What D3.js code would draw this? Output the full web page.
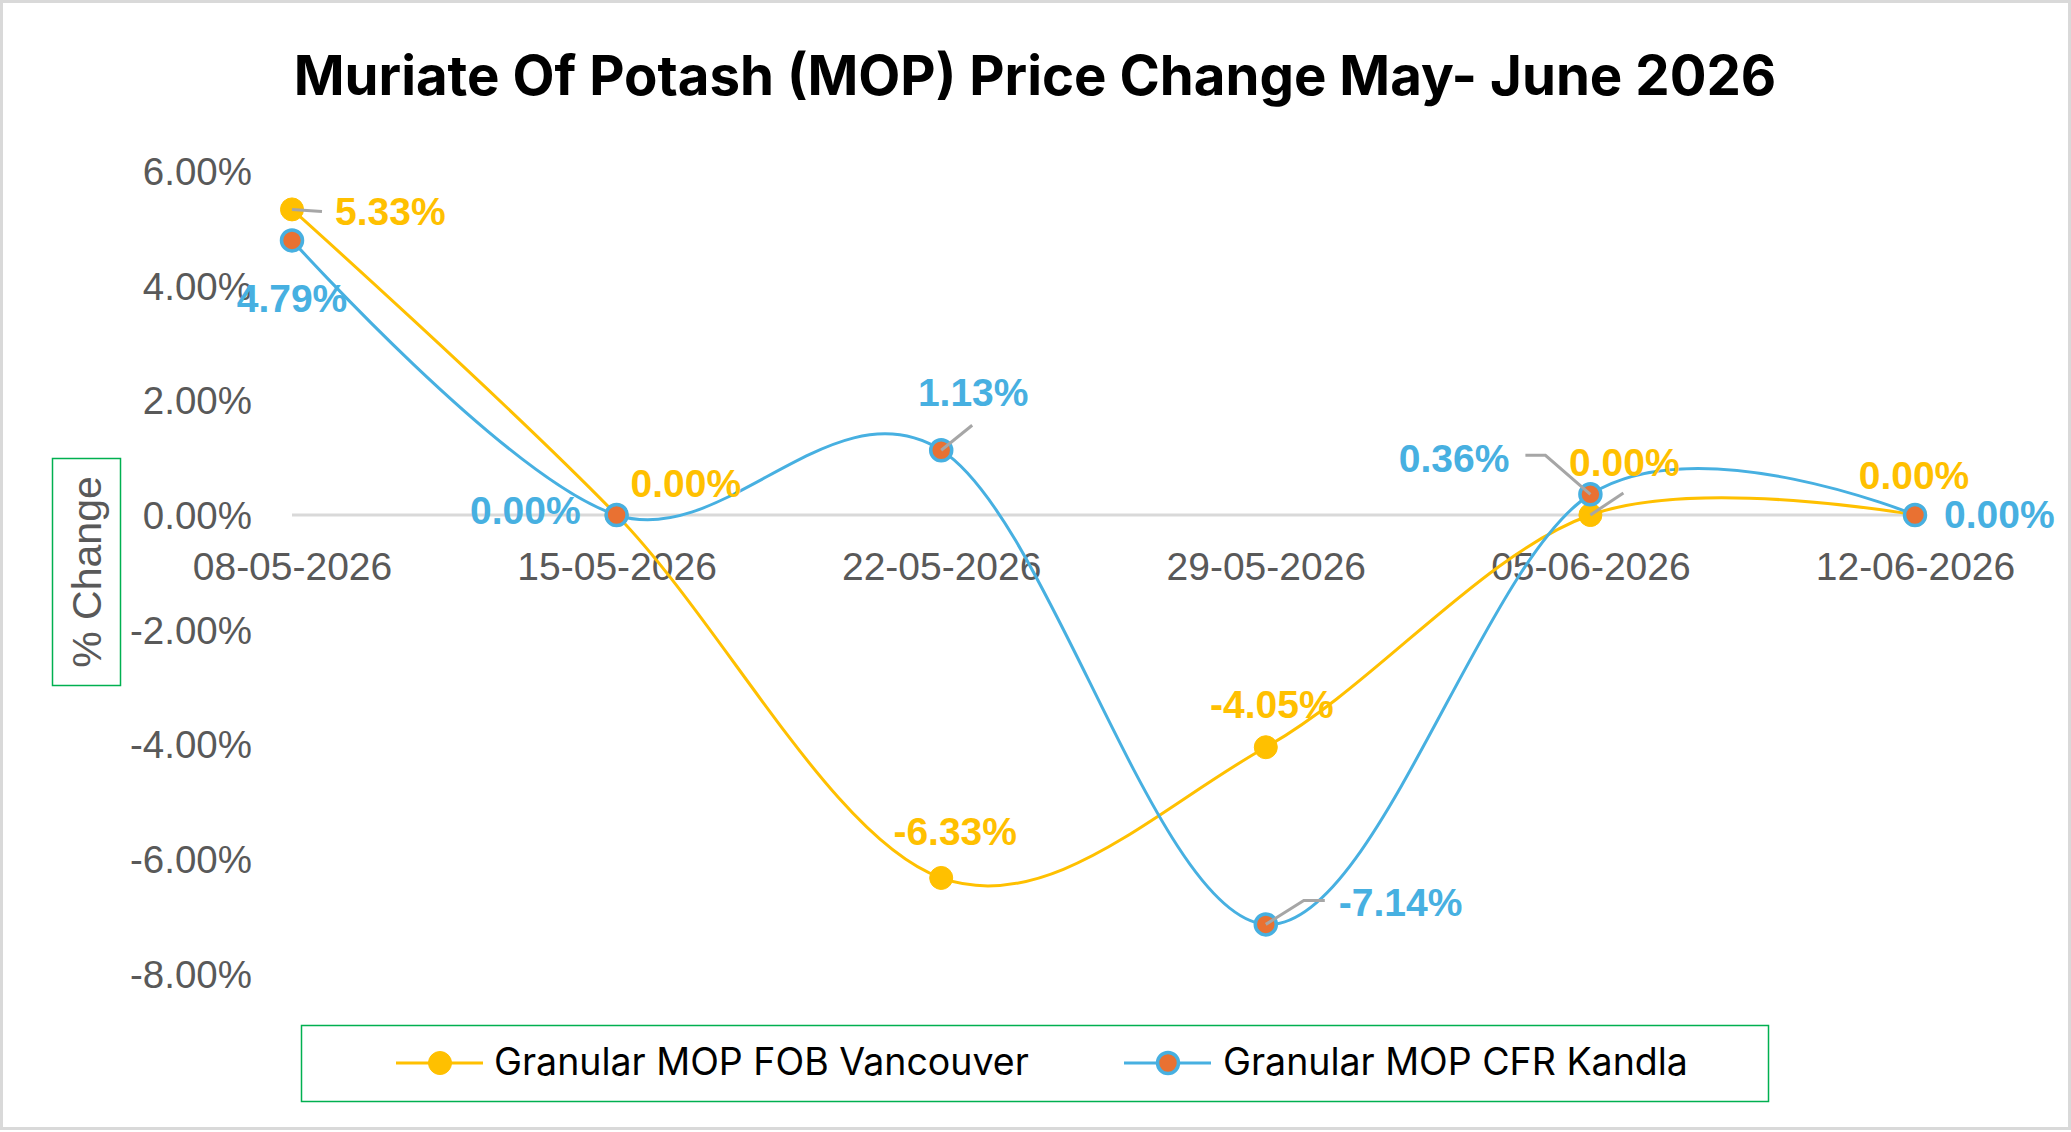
<!DOCTYPE html>
<html>
<head>
<meta charset="utf-8">
<script src="https://cdn.jsdelivr.net/npm/d3@7"></script>
<style>
  html, body { margin: 0; padding: 0; background: #fff; }
  svg { display: block; }
</style>
</head>
<body>
<svg id="chart" width="2071" height="1132"></svg>
<script>
// data
let dates = ['08-05-2026', '15-05-2026', '22-05-2026', '29-05-2026', '05-06-2026', '12-06-2026'];
let fobVancouver = [5.33, 0.00, -6.33, -4.05, 0.00, 0.00];
let cfrKandla = [4.79, 0.00, 1.13, -7.14, 0.36, 0.00];
let yTicks = [-8, -6, -4, -2, 0, 2, 4, 6];
let seriesNames = ['Granular MOP FOB Vancouver', 'Granular MOP CFR Kandla'];

let chartTitle = 'Muriate Of Potash (MOP) Price Change May- June 2026';
let yTitle = '% Change';

// label placement (relative to point), kept apart from the data
let labelPos = [
  [
    { dx: 43, dy: 2, anchor: 'start', leader: [[0, 0], [30, 2]] },
    { dx: 14, dy: -32, anchor: 'start' },
    { dx: 14, dy: -47, anchor: 'middle' },
    { dx: 6, dy: -43, anchor: 'middle' },
    { dx: 34, dy: -53, anchor: 'middle', leader: [[0, 0], [33, -22]] },
    { dx: -1, dy: -40, anchor: 'middle' }
  ],
  [
    { dx: 0, dy: 58, anchor: 'middle' },
    { dx: -36, dy: -5, anchor: 'end' },
    { dx: 32, dy: -58, anchor: 'middle', leader: [[0, 0], [31, -25]] },
    { dx: 73, dy: -22, anchor: 'start', leader: [[0, 0], [38, -24], [59, -24]] },
    { dx: -81, dy: -36, anchor: 'end', leader: [[0, 0], [-45, -39], [-65, -39]] },
    { dx: 29, dy: -1, anchor: 'start' }
  ]
];

let yellow = '#FFC000';
let blue = '#47B0E1';
let orange = '#E97132';
let axisGrey = '#595959';

let svg = d3.select('#chart');
let W = +svg.attr('width');
let H = +svg.attr('height');

// chart border
svg.append('rect')
  .attr('x', 1.5).attr('y', 1.5)
  .attr('width', W - 3).attr('height', H - 5)
  .attr('fill', '#fff')
  .attr('stroke', '#D9D9D9')
  .attr('stroke-width', 3);

let x = d3.scalePoint()
  .domain(dates)
  .range([292, 1915]);

let y = d3.scaleLinear()
  .domain([-8, 6])
  .range([973.7, 171]);

function fitText(sel, target) {
  let fs = parseFloat(sel.attr('font-size'));
  let len = sel.node().getComputedTextLength();
  if (len > 0) sel.attr('font-size', fs * target / len);
}

// title
let title = svg.append('text')
  .attr('x', 1035)
  .attr('y', 95)
  .attr('text-anchor', 'middle')
  .attr('font-family', 'Inter, "Open Sans", sans-serif')
  .attr('font-weight', 700)
  .attr('font-size', 56)
  .attr('fill', '#000')
  .text(chartTitle);
fitText(title, 1483);

// zero line
svg.append('line')
  .attr('x1', x(dates[0])).attr('x2', x(dates[dates.length - 1]))
  .attr('y1', y(0)).attr('y2', y(0))
  .attr('stroke', '#D9D9D9')
  .attr('stroke-width', 3);

// y axis
let yAxis = d3.axisLeft(y)
  .tickValues(yTicks)
  .tickSize(0)
  .tickPadding(0)
  .tickFormat(d => d.toFixed(2) + '%');

let gy = svg.append('g')
  .attr('transform', 'translate(252, 0)')
  .call(yAxis);
gy.select('.domain').remove();
gy.selectAll('text')
  .attr('font-family', '"Liberation Sans", Arial, sans-serif')
  .attr('font-size', 38.5)
  .attr('fill', axisGrey)
  .attr('dy', '0.35em');

// x axis labels
let xAxis = d3.axisBottom(x).tickSize(0).tickPadding(0);
let gx = svg.append('g')
  .call(xAxis);
gx.select('.domain').remove();
gx.selectAll('text')
  .attr('y', 580)
  .attr('dy', null)
  .attr('font-family', '"Liberation Sans", Arial, sans-serif')
  .attr('font-size', 39)
  .attr('fill', axisGrey);

// y axis title
svg.append('rect')
  .attr('x', 52.5).attr('y', 458.5)
  .attr('width', 68).attr('height', 227)
  .attr('fill', 'none')
  .attr('stroke', '#00B050')
  .attr('stroke-width', 1.5);
svg.append('text')
  .attr('transform', 'translate(101, 572) rotate(-90)')
  .attr('text-anchor', 'middle')
  .attr('font-family', '"Liberation Sans", Arial, sans-serif')
  .attr('font-size', 41)
  .attr('fill', axisGrey)
  .text(yTitle);

// series
let series = [
  { values: fobVancouver, line: yellow, fill: yellow, stroke: yellow },
  { values: cfrKandla, line: blue, fill: orange, stroke: blue }
];

let line = d3.line()
  .x((d, i) => x(dates[i]))
  .y(d => y(d))
  .curve(d3.curveCardinal.tension(0));

series.forEach(function(s) {
  svg.append('path')
    .datum(s.values)
    .attr('fill', 'none')
    .attr('stroke', s.line)
    .attr('stroke-width', 3)
    .attr('d', line);
});

series.forEach(function(s, si) {
  svg.selectAll('.dot' + si)
    .data(s.values)
    .enter()
    .append('circle')
    .attr('class', 'dot' + si)
    .attr('cx', (d, i) => x(dates[i]))
    .attr('cy', d => y(d))
    .attr('r', si == 0 ? 11.5 : 10.5)
    .attr('fill', s.fill)
    .attr('stroke', s.stroke)
    .attr('stroke-width', si == 0 ? 1 : 3.5);
});

// leader lines + data labels
series.forEach(function(s, si) {
  s.values.forEach(function(v, i) {
    let px = x(dates[i]);
    let py = y(v);
    let p = labelPos[si][i];
    if (p.leader) {
      svg.append('path')
        .attr('d', d3.line()(p.leader.map(q => [px + q[0], py + q[1]])))
        .attr('fill', 'none')
        .attr('stroke', '#A6A6A6')
        .attr('stroke-width', 3);
    }
  });
});

series.forEach(function(s, si) {
  s.values.forEach(function(v, i) {
    let p = labelPos[si][i];
    svg.append('text')
      .attr('x', x(dates[i]) + p.dx)
      .attr('y', y(v) + p.dy)
      .attr('dy', '0.36em')
      .attr('text-anchor', p.anchor)
      .attr('font-family', '"Liberation Sans", Arial, sans-serif')
      .attr('font-weight', 700)
      .attr('font-size', 39)
      .attr('fill', si == 0 ? yellow : blue)
      .text(v.toFixed(2) + '%');
  });
});

// legend
svg.append('rect')
  .attr('x', 301.5).attr('y', 1025.5)
  .attr('width', 1467).attr('height', 76)
  .attr('fill', 'none')
  .attr('stroke', '#00B050')
  .attr('stroke-width', 1.5);

let legendItems = [
  { x0: 396, textX: 494, width: 535 },
  { x0: 1124, textX: 1223, width: 465 }
];
series.forEach(function(s, si) {
  let li = legendItems[si];
  let g = svg.append('g');
  g.append('line')
    .attr('x1', li.x0).attr('x2', li.x0 + 87)
    .attr('y1', 1063).attr('y2', 1063)
    .attr('stroke', s.line)
    .attr('stroke-width', 3);
  g.append('circle')
    .attr('cx', li.x0 + 44).attr('cy', 1063)
    .attr('r', si == 0 ? 11.5 : 10.5)
    .attr('fill', s.fill)
    .attr('stroke', s.stroke)
    .attr('stroke-width', si == 0 ? 1 : 3.5);
  let t = g.append('text')
    .attr('x', li.textX)
    .attr('y', 1075)
    .attr('font-family', 'Inter, "Open Sans", sans-serif')
    .attr('font-size', 37)
    .attr('fill', '#000')
    .text(seriesNames[si]);
  fitText(t, li.width);
});
</script>
</body>
</html>
